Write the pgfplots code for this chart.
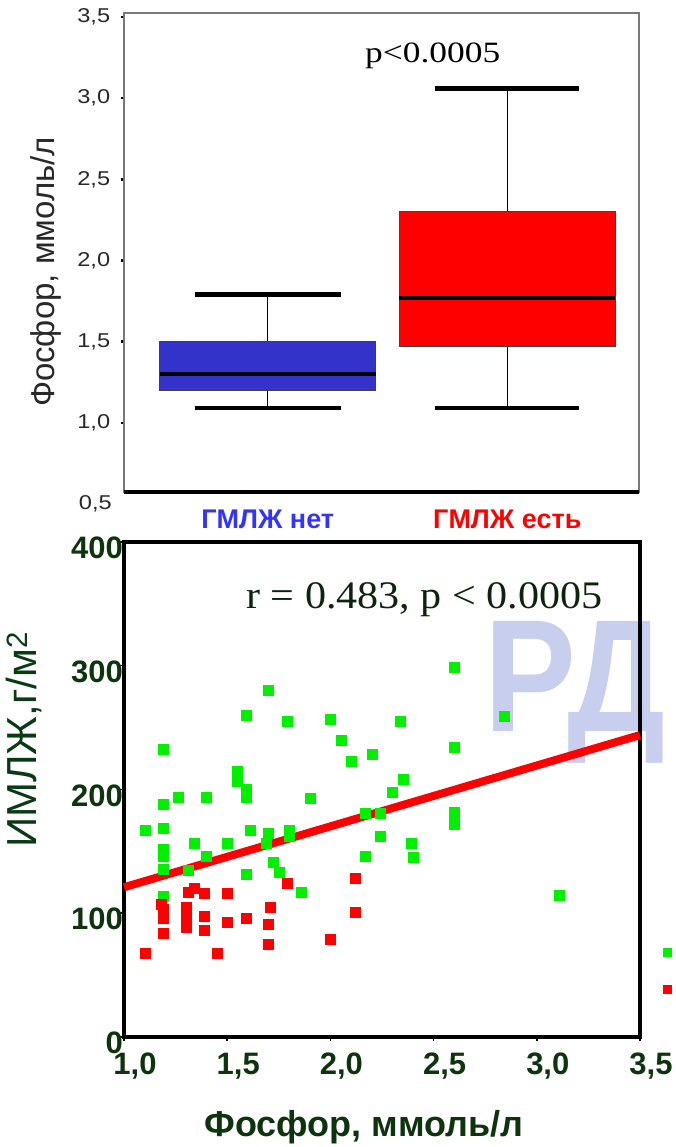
\documentclass[border=0pt]{standalone}
\usepackage{fontspec}
\usepackage{pgfplots}
\pgfplotsset{compat=1.18}
\usepgfplotslibrary{statistics}
\setmainfont{Liberation Sans}
\newfontfamily\arial{Liberation Sans}
\newfontfamily\tnr{Liberation Serif}
\definecolor{boxblue}{RGB}{51,51,204}
\definecolor{lblblue}{RGB}{51,51,255}
\definecolor{dkgreen}{RGB}{14,52,14}
\definecolor{rtext}{RGB}{12,36,12}
\definecolor{ylab}{RGB}{10,58,20}
\definecolor{wm}{RGB}{200,206,238}
\definecolor{ptgreen}{RGB}{0,240,0}
\definecolor{ptred}{RGB}{255,0,0}
\definecolor{axgray}{RGB}{120,120,120}
\definecolor{txtgray}{RGB}{40,40,40}
\newcommand{\fs}[1]{\fontsize{#1}{#1}\selectfont}

\pgfplotstableread{
x y
2.60 299
1.70 280
1.59 260
1.79 255
2.00 257
2.34 255
2.84 259
2.05 240
1.19 233
2.60 234
2.20 229
2.10 223
1.55 215
1.55 207
2.35 208
1.59 200
1.59 194
1.26 194
1.40 194
1.90 193
2.30 198
1.19 188
2.17 181
2.24 181
2.60 182
2.60 177
2.60 172
1.10 167
1.19 169
1.61 167
1.70 165
1.80 167
1.80 162
2.24 162
1.34 157
1.50 157
1.69 157
2.39 157
1.19 152
1.19 146
1.40 146
2.17 146
2.40 145
1.72 141
1.19 136
1.31 135
1.59 132
1.75 133
1.86 117
1.19 114
3.11 115
}\greendata

\pgfplotstableread{
x y
2.12 128
1.79 124
1.31 117
1.34 120
1.39 116
1.50 116
1.18 107
1.19 103
1.19 96
1.19 84
1.30 105
1.30 100
1.30 95
1.30 89
1.39 98
1.50 93
1.59 96
1.39 86
1.71 105
1.70 91
1.70 75
1.45 68
1.10 68
2.00 79
2.12 101
}\reddata

\begin{document}
\begin{tikzpicture}[x=1pt,y=1pt]
\path[use as bounding box] (0,0) rectangle (676,1147);

% watermark
\node[anchor=base west, inner sep=0pt, text=wm, font=\arial\bfseries\fs{160}, xscale=0.86] at (484,415) {РД};

% ---------------- top: box plot ----------------
\begin{axis}[
  at={(124pt,655pt)}, anchor=south west,
  width=515pt, height=479pt, scale only axis,
  xmin=0.4, xmax=2.55, ymin=0.574, ymax=3.525,
  axis line style={axgray, line width=1.5pt},
  xtick={1,2},
  xticklabels={{\textcolor{lblblue}{ГМЛЖ нет}},{\textcolor{ptred}{ГМЛЖ есть}}},
  x tick style={draw=none},
  xticklabel style={font=\arial\bfseries\fs{27}, inner sep=0pt, yshift=-15pt},
  ytick={1,1.5,2,2.5,3,3.5},
  yticklabels={{1,0},{1,5},{2,0},{2,5},{3,0},{3,5}},
  y tick style={black, line width=2.5pt},
  ytick pos=left, xtick pos=bottom,
  tick align=outside, major tick length=3pt,
  yticklabel style={font=\arial\fs{20}, text=txtgray, inner sep=0pt, xscale=1.18, anchor=east, xshift=-9pt},
  clip=false,
  boxplot/draw direction=y,
  boxplot/every median/.style={black, line width=4pt},
  boxplot/draw/lower whisker/.code={
    \draw[black, line width=1pt] (boxplot cs:\pgfplotsboxplotvalue{lower quartile}) -- (boxplot cs:\pgfplotsboxplotvalue{lower whisker});
    \draw[black, line width=4.5pt] (boxplot whisker cs:\pgfplotsboxplotvalue{lower whisker},0) -- (boxplot whisker cs:\pgfplotsboxplotvalue{lower whisker},1);
  },
  boxplot/draw/upper whisker/.code={
    \draw[black, line width=1pt] (boxplot cs:\pgfplotsboxplotvalue{upper quartile}) -- (boxplot cs:\pgfplotsboxplotvalue{upper whisker});
    \draw[black, line width=4.5pt] (boxplot whisker cs:\pgfplotsboxplotvalue{upper whisker},0) -- (boxplot whisker cs:\pgfplotsboxplotvalue{upper whisker},1);
  },
]
\addplot[fill=boxblue, draw=black!75, line width=1pt,
  boxplot prepared={draw position=1, lower whisker=1.09, lower quartile=1.20,
    median=1.30, upper quartile=1.50, upper whisker=1.79,
    box extend=0.9, whisker extend=0.61}] coordinates {};
\addplot[fill=ptred, draw=black!75, line width=1pt,
  boxplot prepared={draw position=2, lower whisker=1.09, lower quartile=1.47,
    median=1.77, upper quartile=2.30, upper whisker=3.06,
    box extend=0.9, whisker extend=0.60}] coordinates {};
\draw[black, line width=4pt] (rel axis cs:0,0) -- (rel axis cs:1,0);
\node[anchor=east, inner sep=0pt, font=\arial\fs{20}, text=txtgray, xscale=1.18] at ([xshift=-12pt]axis cs:0.4,0.5) {0,5};
\end{axis}

\node[anchor=base west, inner sep=0pt, font=\tnr\fs{29.5}, xscale=1.2] at (365,1084) {p<0.0005};
\node[rotate=90, font=\arial\fs{33}, text=txtgray] at (46,875) {Фосфор, ммоль/л};

% ---------------- bottom: scatter ----------------
\begin{axis}[
  at={(124pt,110pt)}, anchor=south west,
  width=516pt, height=495pt, scale only axis,
  xmin=1, xmax=3.5, ymin=0, ymax=400,
  axis line style={black, line width=3.5pt},
  xtick={1,1.5,2,2.5,3,3.5},
  xticklabels={{1,0},{1,5},{2,0},{2,5},{3,0},{3,5}},
  ytick={0,100,200,300,400},
  tick align=outside, major tick length=4pt,
  tick style={black, line width=1.5pt},
  xtick pos=bottom, ytick pos=left,
  xticklabel style={font=\arial\bfseries\fs{31}, text=dkgreen, inner sep=0pt, xshift=11pt, yshift=-12pt},
  yticklabel style={font=\arial\bfseries\fs{31}, text=dkgreen, inner sep=0pt, xshift=3pt, yshift=-6pt},
  /pgf/number format/assume math mode=true,
  clip=false,
]
\addplot[only marks, mark=square*, mark size=5pt,
  mark options={draw=ptgreen, fill=ptgreen, line width=0.2pt}] table[x=x,y=y] {\greendata};
\addplot[only marks, mark=square*, mark size=5pt,
  mark options={draw=ptred, fill=ptred, line width=0.2pt}] table[x=x,y=y] {\reddata};
\addplot[ptred, line width=8pt] coordinates {(1,121) (3.5,244)};
\addplot[only marks, mark=square*, mark size=4pt,
  mark options={draw=ptgreen, fill=ptgreen, line width=0.2pt}] coordinates {(3.63,69)};
\addplot[only marks, mark=square*, mark size=4pt,
  mark options={draw=ptred, fill=ptred, line width=0.2pt}] coordinates {(3.63,39)};
\end{axis}

\node[anchor=base west, inner sep=0pt, font=\tnr\fs{39}, text=rtext, xscale=1.08] at (246,538) {r = 0.483, p < 0.0005};
\node[rotate=90, font=\arial\fs{42}, text=ylab] at (24,407) {ИМЛЖ,г/м\textsuperscript{2}};
\node[anchor=base, inner sep=0pt, font=\arial\bfseries\fs{36}, text=dkgreen] at (364,10) {Фосфор, ммоль/л};
\end{tikzpicture}
\end{document}
